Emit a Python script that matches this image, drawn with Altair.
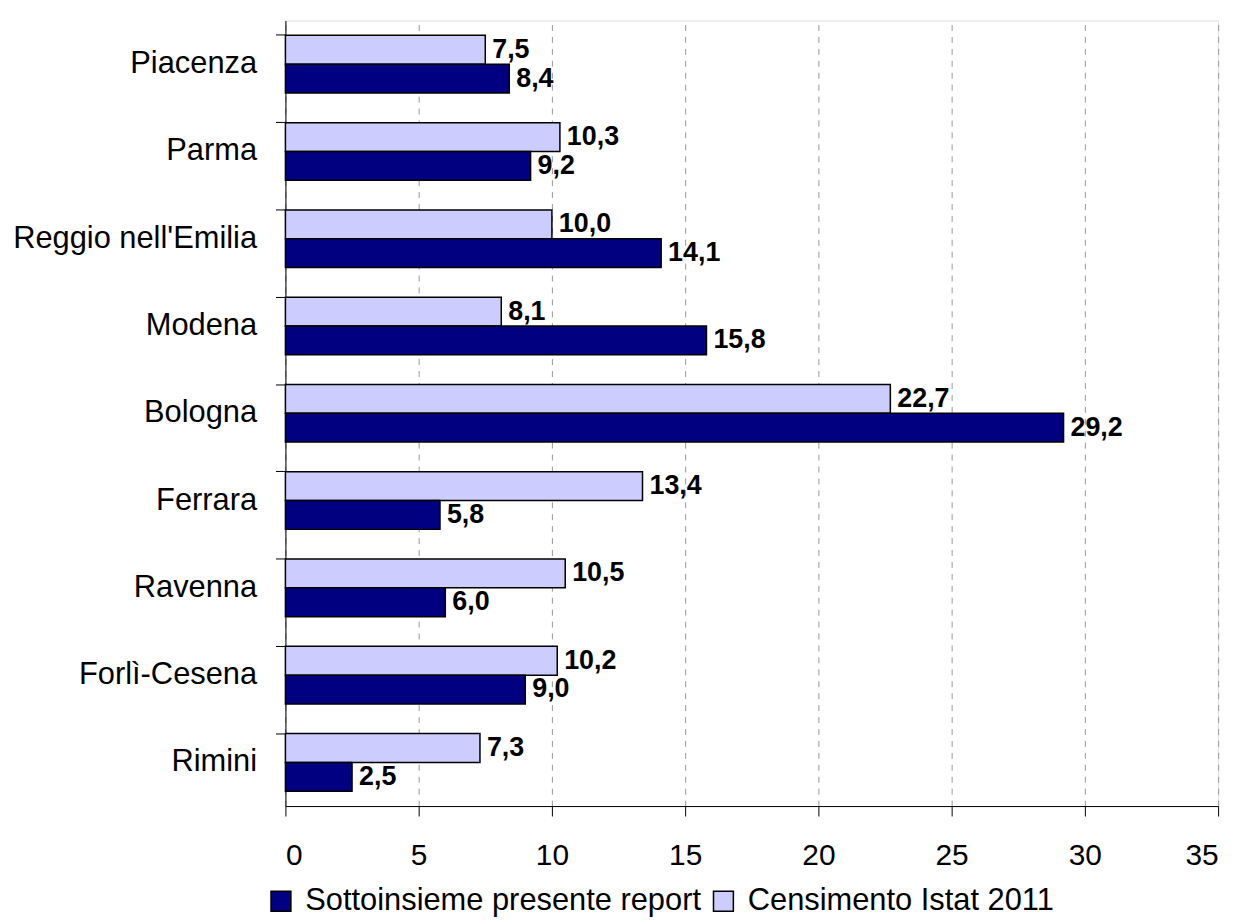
import altair as alt
import pandas as pd

provinces = ["Piacenza", "Parma", "Reggio nell'Emilia", "Modena", "Bologna",
             "Ferrara", "Ravenna", "Forlì-Cesena", "Rimini"]
censimento = [7.5, 10.3, 10.0, 8.1, 22.7, 13.4, 10.5, 10.2, 7.3]
sottoinsieme = [8.4, 9.2, 14.1, 15.8, 29.2, 5.8, 6.0, 9.0, 2.5]
series = ["Sottoinsieme presente report", "Censimento Istat 2011"]
colors = ["#000080", "#CCCCFF"]

rows = []
for p, c, s in zip(provinces, censimento, sottoinsieme):
    rows.append({"prov": p, "serie": series[1], "val": c, "ord": 0,
                 "lab": f"{c:.1f}".replace(".", ",")})
    rows.append({"prov": p, "serie": series[0], "val": s, "ord": 1,
                 "lab": f"{s:.1f}".replace(".", ",")})
df = pd.DataFrame(rows)

font = "Liberation Sans"

y = alt.Y("prov:N", sort=provinces, title=None,
          scale=alt.Scale(paddingInner=0.34, paddingOuter=0.17),
          axis=alt.Axis(bandPosition=0, tickSize=10, labelPadding=19,
                        labelFontSize=31, labelFont=font, labelColor="black",
                        domainColor="black", tickColor="black", grid=False,
                        labelLimit=400))
yoff = alt.YOffset("ord:O", scale=alt.Scale(paddingInner=0, paddingOuter=0))
x = alt.X("val:Q", title=None,
          scale=alt.Scale(domain=[0, 35], nice=False),
          axis=alt.Axis(values=[0, 5, 10, 15, 20, 25, 30, 35], tickSize=10,
                        labelPadding=25, labelFontSize=30, labelFont=font,
                        labelColor="black", domainColor="black",
                        tickColor="black", grid=True, gridDash=[6, 6],
                        gridColor="#999999", gridWidth=1))

base = alt.Chart(df)
bars = base.mark_bar(stroke="black", strokeWidth=1.5).encode(
    y=y, yOffset=yoff, x=x,
    color=alt.Color("serie:N", scale=alt.Scale(domain=series, range=colors),
                    legend=alt.Legend(orient="none", legendX=-20, legendY=870,
                                      direction="horizontal",
                                      title=None, labelFontSize=31,
                                      labelFont=font, labelColor="black",
                                      labelLimit=800,
                                      symbolType="square", symbolSize=400,
                                      symbolStrokeColor="black",
                                      symbolStrokeWidth=1.5,
                                      columnPadding=6, labelOffset=9,
                                      padding=0)),
)
text = base.mark_text(align="left", baseline="middle", dx=7, fontSize=27,
                      fontWeight="bold", font=font, color="black").encode(
    y=y, yOffset=yoff, x=x, text="lab:N")

chart = (bars + text).properties(
    width=938, height=790,
    autosize=alt.AutoSizeParams(type="none"),
    padding={"left": 279, "top": 10, "right": 20, "bottom": 114},
).configure_view(stroke=None).configure(background="white")

chart.save("out.html", embed_options={"renderer": "svg", "actions": False})
